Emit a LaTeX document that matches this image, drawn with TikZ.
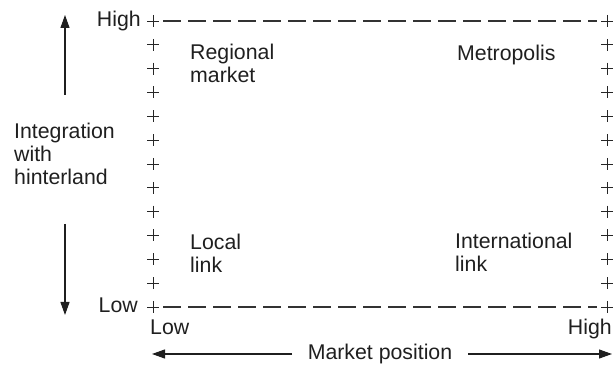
\documentclass[tikz,border=0pt]{standalone}
\usepackage{fontspec}
\setmainfont{Liberation Sans}
\usetikzlibrary{arrows.meta}
\begin{document}
\begin{tikzpicture}[x=1pt,y=-1pt,
  lbl/.style={inner sep=0pt,font=\fontsize{21.3}{23}\selectfont,text=black!88},
  axisarrow/.style={line width=1.1pt,draw=black!88,-{Triangle[length=13pt,width=9pt]}},
  dashline/.style={line width=1.3pt,draw=black!80,dash pattern=on 18pt off 7pt},
  plusmark/.pic={\draw[line width=0.9pt,black!85] (-6,0)--(6,0) (0,-6)--(0,6);}]
\useasboundingbox (0,0) rectangle (614,366);
% plus columns
\foreach \i in {0,...,12}{
  \pgfmathsetmacro\yy{21+\i*23.833}
  \pic at (153,\yy) {plusmark};
  \pic at (607,\yy) {plusmark};
}
% dashed lines
\coordinate (tl) at (163,21);
\coordinate (tr) at (597,21);
\coordinate (bl) at (163,307);
\coordinate (br) at (597,307);
\draw[dashline] (tl) -- (tr);
\draw[dashline] (bl) -- (br);
% axis end labels
\node[lbl,anchor=base east] (yhigh) at (141,27) {High};
\node[lbl,anchor=base east] (ylow) at (138,313) {Low};
\node[lbl,anchor=base west] (xlow) at (150,335) {Low};
\node[lbl,anchor=base east] (xhigh) at (612,335) {High};
% quadrant labels (base = last line)
\node[lbl,anchor=base west,align=left] (regional) at (190,83) {Regional\\market};
\node[lbl,anchor=base west] (metro) at (457,61) {Metropolis};
\node[lbl,anchor=base west,align=left] (local) at (190,273) {Local\\link};
\node[lbl,anchor=base west,align=left] (intl) at (455,272) {International\\link};
% axis titles
\node[lbl,anchor=base west,align=left] (yaxis) at (14,185) {Integration\\with\\hinterland};
\node[lbl,anchor=base] (xaxis) at (380,360) {Market position};
% arrows
\coordinate (uptail) at (65,95);
\coordinate (uptip) at (65,15);
\coordinate (dntail) at (65,224);
\coordinate (dntip) at (65,315);
\coordinate (lttail) at (292,354);
\coordinate (lttip) at (152,354);
\coordinate (rttail) at (468,354);
\coordinate (rttip) at (612,354);
\draw[axisarrow] (uptail) -- (uptip);
\draw[axisarrow] (dntail) -- (dntip);
\draw[axisarrow] (lttail) -- (lttip);
\draw[axisarrow] (rttail) -- (rttip);
\end{tikzpicture}
\end{document}
